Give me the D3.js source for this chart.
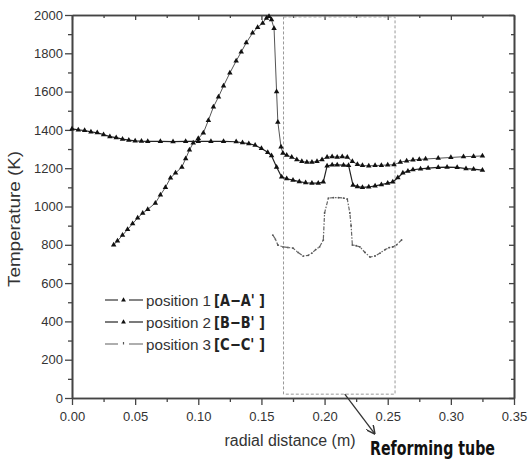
<!DOCTYPE html>
<html><head><meta charset="utf-8">
<script src="https://cdn.jsdelivr.net/npm/d3@7"></script>
<style>
html,body{margin:0;padding:0;background:#fff;}
svg{display:block;}
</style></head>
<body>
<svg id="chart" width="528" height="465"></svg>
<script>
// ---- data ----
const pos1X = [0.033,0.036,0.040,0.044,0.048,0.052,0.056,0.060,0.066,0.070,0.074,0.078,0.082,0.087,0.090,0.093,0.096,0.100,0.104,0.108,0.112,0.116,0.120,0.125,0.130,0.134,0.138,0.143,0.147,0.151,0.154,0.156,0.158,0.160,0.162,0.163,0.1655,0.167,0.170,0.174,0.178,0.182,0.186,0.190,0.194,0.198,0.202,0.206,0.210,0.214,0.218,0.222,0.226,0.230,0.235,0.240,0.245,0.250,0.255,0.260,0.265,0.270,0.275,0.280,0.290,0.300,0.310,0.318,0.325];
const pos1T = [800,820,850,880,910,940,965,985,1018,1060,1100,1149,1175,1206,1250,1295,1332,1355,1384,1450,1520,1572,1630,1697,1760,1807,1855,1906,1935,1958,1984,1992,1975,1930,1600,1441,1311,1279,1268,1258,1245,1235,1232,1232,1235,1245,1258,1260,1258,1260,1257,1235,1220,1214,1212,1214,1215,1217,1218,1232,1238,1243,1246,1248,1252,1256,1260,1262,1264];

const pos2X = [0.000,0.005,0.010,0.015,0.020,0.025,0.030,0.035,0.040,0.045,0.050,0.055,0.060,0.070,0.080,0.090,0.100,0.110,0.120,0.130,0.135,0.140,0.145,0.150,0.155,0.158,0.162,0.166,0.170,0.175,0.180,0.185,0.190,0.195,0.199,0.202,0.206,0.210,0.215,0.219,0.2225,0.226,0.230,0.235,0.240,0.245,0.250,0.254,0.258,0.262,0.266,0.270,0.276,0.282,0.290,0.297,0.305,0.312,0.318,0.325];
const pos2T = [1405,1400,1397,1390,1385,1375,1365,1360,1352,1347,1343,1341,1340,1340,1339,1340,1340,1340,1340,1338,1333,1328,1320,1303,1283,1265,1206,1154,1145,1138,1130,1124,1122,1122,1128,1212,1217,1217,1216,1215,1112,1104,1100,1102,1108,1114,1122,1128,1150,1175,1185,1192,1196,1200,1204,1206,1204,1198,1195,1190];

const pos3X = [0.159,0.161,0.163,0.167,0.171,0.175,0.179,0.183,0.187,0.190,0.193,0.196,0.199,0.200,0.203,0.207,0.211,0.215,0.218,0.220,0.221,0.222,0.225,0.228,0.232,0.236,0.240,0.244,0.248,0.251,0.254,0.257,0.261];
const pos3T = [851,830,799,789,786,783,760,741,745,757,775,789,825,966,1044,1046,1046,1044,1039,966,900,799,795,789,760,736,742,757,775,785,789,800,825];

const xMajorTicks = [0,0.05,0.10,0.15,0.20,0.25,0.30,0.35];
const xMinorTicks = [0.025,0.075,0.125,0.175,0.225,0.275,0.325];
const yMajorTicks = [0,200,400,600,800,1000,1200,1400,1600,1800,2000];
const yMinorTicks = [100,300,500,700,900,1100,1300,1500,1700,1900];

const legendNames = ["position 1","position 2","position 3"];
const legendTags = ["[A\u2212A'  ]","[B\u2212B'  ]","[C\u2212C'  ]"];

const boxX = [0.1675, 0.2558];
const boxT = [20, 1990];
const arrowX = [0.216, 0.2395];
const arrowT = [20, -185];

// ---- chart ----
const svg = d3.select("#chart");
const x = d3.scaleLinear().domain([0,0.35]).range([72,514]);
const y = d3.scaleLinear().domain([0,2000]).range([398,15]);

const axisColor = "#444";
const textColor = "#333";
const tickFont = "'Liberation Sans', Arial, sans-serif";

function styleAxis(g){
  g.selectAll("path.domain").attr("stroke", axisColor).attr("stroke-width", 1.6);
  g.selectAll(".tick line").attr("stroke", axisColor).attr("stroke-width", 1.3);
  g.selectAll(".tick text").attr("fill", textColor).attr("font-family", tickFont).attr("font-size", 13);
}

// bottom
svg.append("g").attr("transform","translate(0,398)")
  .call(d3.axisBottom(x).tickValues(xMajorTicks).tickSize(7).tickSizeOuter(0).tickPadding(7).tickFormat(d3.format(".2f")))
  .call(styleAxis);
svg.append("g").attr("transform","translate(0,398)")
  .call(d3.axisBottom(x).tickValues(xMinorTicks).tickSize(4).tickSizeOuter(0).tickFormat(""))
  .call(styleAxis);
// top
svg.append("g").attr("transform","translate(0,15)")
  .call(d3.axisTop(x).tickValues(xMajorTicks).tickSize(-5).tickSizeOuter(0).tickFormat(""))
  .call(styleAxis);
svg.append("g").attr("transform","translate(0,15)")
  .call(d3.axisTop(x).tickValues(xMinorTicks).tickSize(-3).tickSizeOuter(0).tickFormat(""))
  .call(styleAxis);
// left
svg.append("g").attr("transform","translate(72,0)")
  .call(d3.axisLeft(y).tickValues(yMajorTicks).tickSize(7).tickSizeOuter(0).tickPadding(2).tickFormat(d3.format("d")))
  .call(styleAxis);
svg.append("g").attr("transform","translate(72,0)")
  .call(d3.axisLeft(y).tickValues(yMinorTicks).tickSize(4).tickSizeOuter(0).tickFormat(""))
  .call(styleAxis);
// right
svg.append("g").attr("transform","translate(514,0)")
  .call(d3.axisRight(y).tickValues(yMajorTicks).tickSize(-5).tickSizeOuter(0).tickFormat(""))
  .call(styleAxis);
svg.append("g").attr("transform","translate(514,0)")
  .call(d3.axisRight(y).tickValues(yMinorTicks).tickSize(-3).tickSizeOuter(0).tickFormat(""))
  .call(styleAxis);

// dashed reforming tube box
svg.append("rect")
  .attr("x", x(boxX[0])).attr("y", y(boxT[1]))
  .attr("width", x(boxX[1]) - x(boxX[0])).attr("height", y(boxT[0]) - y(boxT[1]))
  .attr("fill","none").attr("stroke","#999").attr("stroke-width",1).attr("stroke-dasharray","3,2");

// series
const line = d3.line().x(d => x(d[0])).y(d => y(d[1]));
const tri = d3.symbol().type(d3.symbolTriangle).size(13);

const s1 = pos1X.map((v,i) => [v, pos1T[i]]);
const s2 = pos2X.map((v,i) => [v, pos2T[i]]);
const s3 = pos3X.map((v,i) => [v, pos3T[i]]);

svg.append("path").datum(s1).attr("d", line).attr("fill","none").attr("stroke","#555").attr("stroke-width",1);
svg.append("g").selectAll("path").data(s1).join("path")
  .attr("d", tri).attr("transform", d => `translate(${x(d[0])},${y(d[1])})`).attr("fill","#111");

svg.append("path").datum(s2).attr("d", line).attr("fill","none").attr("stroke","#222").attr("stroke-width",1.2);
svg.append("g").selectAll("path").data(s2).join("path")
  .attr("d", tri).attr("transform", d => `translate(${x(d[0])},${y(d[1])})`).attr("fill","#111");

svg.append("path").datum(s3).attr("d", line).attr("fill","none").attr("stroke","#666").attr("stroke-width",1.2).attr("stroke-dasharray","4,1.5,1.5,1.5");
svg.append("g").selectAll("circle").data(s3).join("circle")
  .attr("cx", d => x(d[0])).attr("cy", d => y(d[1])).attr("r", 0.9).attr("fill","#555");

// arrow
svg.append("defs").append("marker").attr("id","ah").attr("viewBox","0 0 10 10")
  .attr("refX",9).attr("refY",5).attr("markerWidth",7).attr("markerHeight",7).attr("orient","auto")
  .append("path").attr("d","M0,0 L10,5 L0,10").attr("fill","none").attr("stroke","#333").attr("stroke-width",1.6);
svg.append("line")
  .attr("x1", x(arrowX[0])).attr("y1", y(arrowT[0]))
  .attr("x2", x(arrowX[1])).attr("y2", y(arrowT[1]))
  .attr("stroke","#333").attr("stroke-width",1.3).attr("marker-end","url(#ah)");

// axis titles
svg.append("text").attr("x", 290).attr("y", 446).attr("text-anchor","middle")
  .attr("font-family", tickFont).attr("font-size", 16).attr("fill", textColor)
  .attr("textLength", 131).attr("lengthAdjust","spacingAndGlyphs")
  .text("radial distance (m)");
svg.append("text").attr("transform","translate(20,219) rotate(-90)").attr("text-anchor","middle")
  .attr("font-family", tickFont).attr("font-size", 16).attr("fill", textColor)
  .attr("textLength", 136).attr("lengthAdjust","spacingAndGlyphs")
  .text("Temperature (K)");
svg.append("text").attr("x", 370).attr("y", 455)
  .attr("font-family", "'Liberation Sans Narrow', 'DejaVu Sans Condensed', sans-serif").attr("font-weight","bold")
  .attr("font-size", 19).attr("fill", "#111")
  .attr("textLength", 125).attr("lengthAdjust","spacingAndGlyphs")
  .text("Reforming tube");

// legend
const legColors = ["#333","#222","#777"];
const legY = [300, 322, 344];
legendNames.forEach((name, i) => {
  const g = svg.append("g").attr("transform", `translate(0,${legY[i]})`);
  g.append("line").attr("x1",105).attr("x2",118).attr("y1",0).attr("y2",0).attr("stroke",legColors[i]).attr("stroke-width",1.2);
  g.append("line").attr("x1",129).attr("x2",143).attr("y1",0).attr("y2",0).attr("stroke",legColors[i]).attr("stroke-width",1.2);
  if (i < 2) {
    g.append("path").attr("d", d3.symbol().type(d3.symbolTriangle).size(10)).attr("transform","translate(123.5,0)").attr("fill","#111");
  } else {
    g.append("line").attr("x1",123.5).attr("x2",123.5).attr("y1",-2).attr("y2",0.5).attr("stroke","#555").attr("stroke-width",1.2);
  }
  g.append("text").attr("x",146).attr("y",5.5)
    .attr("font-family", tickFont).attr("font-size", 15).attr("fill", textColor)
    .attr("textLength", 65).attr("lengthAdjust","spacingAndGlyphs")
    .text(name);
  g.append("text").attr("x",214).attr("y",6)
    .attr("font-family", "'Liberation Sans Narrow', 'DejaVu Sans Condensed', sans-serif").attr("font-weight","bold")
    .attr("font-size", 16).attr("fill", "#222")
    .attr("textLength", 51).attr("lengthAdjust","spacingAndGlyphs")
    .text(legendTags[i]);
});
</script>
</body></html>
